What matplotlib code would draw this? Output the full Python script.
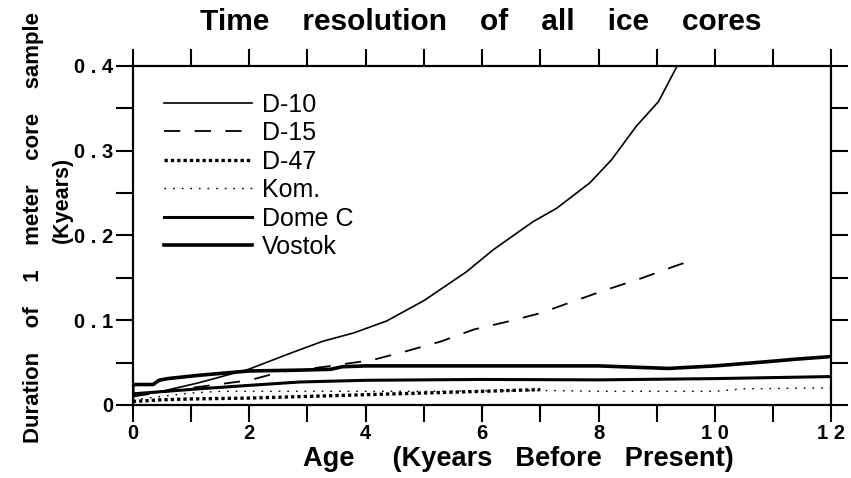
import matplotlib
matplotlib.use("Agg")
import matplotlib.pyplot as plt
import numpy as np

plt.rcParams["font.family"] = ["Liberation Sans", "DejaVu Sans"]

# age (kyr BP) and duration of 1 m of core (kyr)
d10_age = [0, 0.5, 1.13, 1.99, 2.71, 3.26, 3.8, 4.36, 5.0, 5.73, 6.19, 6.87,
           7.28, 7.85, 8.22, 8.65, 9.03, 9.35]
d10_dur = [0.010, 0.016, 0.026, 0.042, 0.061, 0.075, 0.085, 0.099, 0.123, 0.157,
           0.183, 0.216, 0.232, 0.262, 0.289, 0.329, 0.358, 0.400]

d15_age = [0, 1.0, 2.0, 2.55, 3.3, 4.12, 4.68, 5.3, 5.86, 6.42, 6.99, 7.56,
           8.14, 8.76, 9.28, 9.62]
d15_dur = [0.010, 0.020, 0.029, 0.039, 0.045, 0.053, 0.063, 0.075, 0.089, 0.098,
           0.108, 0.122, 0.136, 0.150, 0.163, 0.171]

d47_age = [0, 0.5, 1, 2, 3, 4, 5, 6, 7]
d47_dur = [0.004, 0.006, 0.007, 0.008, 0.010, 0.012, 0.014, 0.016, 0.018]

kom_age = [0, 0.5, 1, 1.5, 3, 5, 7, 8, 10, 10.5, 12]
kom_dur = [0.006, 0.010, 0.014, 0.016, 0.016, 0.016, 0.017, 0.016, 0.016, 0.019, 0.020]

domec_age = [0, 1.15, 2.0, 2.87, 4, 6, 8, 10, 12]
domec_dur = [0.013, 0.019, 0.023, 0.027, 0.029, 0.030, 0.0295, 0.031, 0.0334]

vostok_age = [0, 0, 0.35, 0.45, 0.6, 1.15, 2.0, 2.87, 3.4, 3.6, 4, 6, 8, 9.2,
              10, 10.9, 11.4, 12]
vostok_dur = [0.010, 0.024, 0.024, 0.029, 0.031, 0.035, 0.040, 0.041, 0.042, 0.045,
              0.046, 0.046, 0.046, 0.043, 0.046, 0.051, 0.054, 0.057]

x_ticks = np.arange(0, 13, 1)
x_labels = ["0", "", "2", "", "4", "", "6", "", "8", "", "1 0", "", "1 2"]
y_ticks = np.arange(0, 0.401, 0.05)
y_labels = ["0", "", "0 . 1", "", "0 . 2", "", "0 . 3", "", "0 . 4"]

fig = plt.figure(figsize=(8.51, 4.78), dpi=100)
ax = fig.add_axes([0.156, 0.153, 0.821, 0.709])

ax.plot(d10_age, d10_dur, color="black", lw=1.2, label="D-10")
ax.plot(d15_age, d15_dur, color="black", lw=1.3, dashes=(9, 8), label="D-15")
ax.plot(d47_age, d47_dur, color="black", lw=2.4, dashes=(1.0, 0.9), label="D-47")
ax.plot(kom_age, kom_dur, color="black", lw=1.0, dashes=(1.2, 5), label="Kom.")
ax.plot(domec_age, domec_dur, color="black", lw=2.2, label="Dome C")
ax.plot(vostok_age, vostok_dur, color="black", lw=2.6, label="Vostok")

ax.set_xlim(0, 12)
ax.set_ylim(0, 0.4)
ax.set_xticks(x_ticks)
ax.set_xticklabels(x_labels, fontsize=14.5, fontweight="bold")
ax.set_yticks(y_ticks)
ax.set_yticklabels(y_labels, fontsize=14.5, fontweight="bold")
ax.tick_params(direction="out", length=12, width=1.5, top=True, right=True,
               labeltop=False, labelright=False)
ax.tick_params(axis="x", pad=2)
ax.tick_params(axis="y", pad=2)
for s in ax.spines.values():
    s.set_linewidth(1.6)

fig.text(0.609, 0.040, "Age     (Kyears   Before   Present)", ha="center",
         va="center", fontsize=19.6, fontweight="bold")
fig.text(0.565, 0.955, "Time    resolution    of    all    ice    cores", ha="center",
         va="center", fontsize=21.5, fontweight="bold")
fig.text(0.039, 0.525, "Duration    of    1    meter    core    sample", rotation=90,
         ha="center", va="center", fontsize=16, fontweight="bold")
fig.text(0.073, 0.582, "(Kyears)", rotation=90, ha="center", va="center",
         fontsize=15.5, fontweight="bold")

ax.legend(loc="upper left", bbox_to_anchor=(0.045, 0.921), frameon=False,
          fontsize=18, handlelength=3.5, handletextpad=0.4, labelspacing=0.18,
          borderpad=0, borderaxespad=0)

fig.savefig("out.png", dpi=100)
